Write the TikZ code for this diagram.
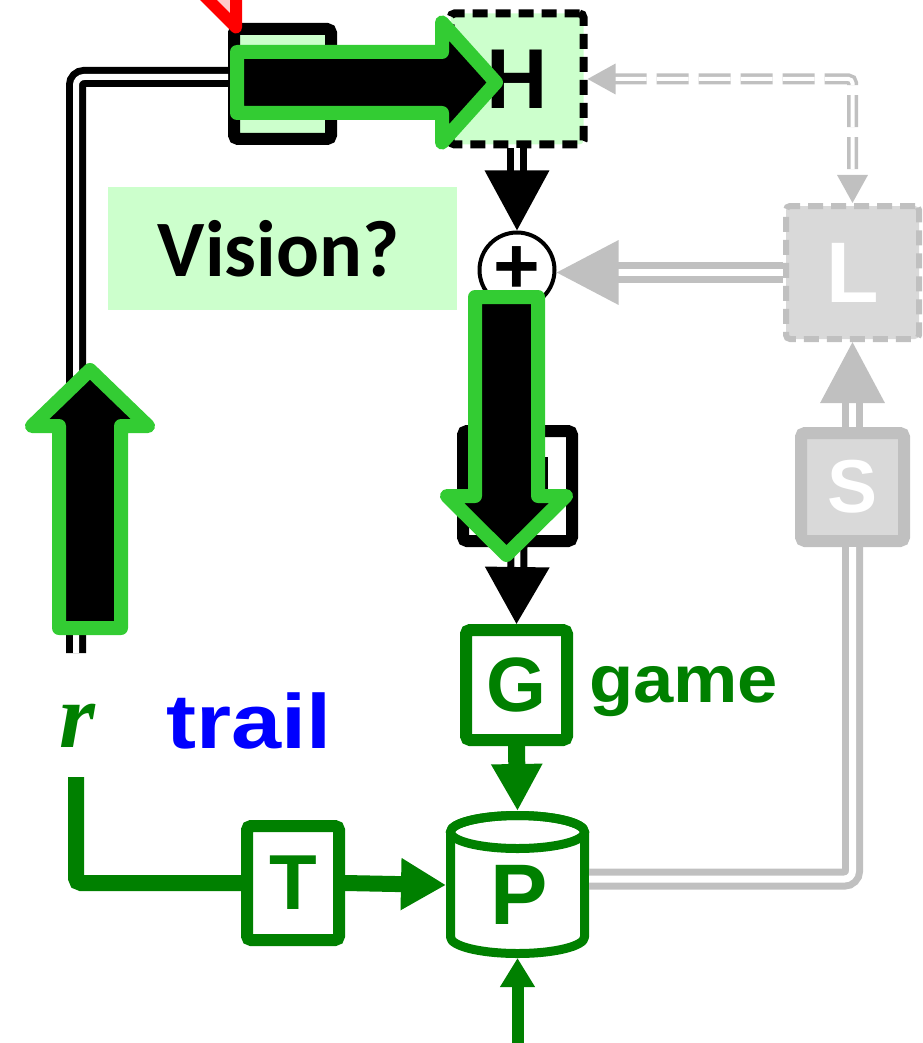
\documentclass[tikz,border=0pt]{standalone}
\usepackage{fontspec}
\usetikzlibrary{arrows.meta}
\newfontfamily\lsans{Liberation Sans}
\newfontfamily\lsansw[FakeStretch=1.17]{Liberation Sans}
\newfontfamily\lsansg[FakeStretch=1.08]{Liberation Sans}
\newfontfamily\cali{Carlito}
\newfontfamily\lserif{Liberation Serif}
\definecolor{dgreen}{RGB}{0,128,0}
\definecolor{bgreen}{RGB}{51,204,51}
\definecolor{lgreen}{RGB}{204,255,204}
\definecolor{mgrey}{RGB}{192,192,192}
\definecolor{lgrey}{RGB}{217,217,217}
\definecolor{lpink}{RGB}{255,204,204}
\begin{document}
\begin{tikzpicture}[x=1pt,y=-1pt,
  box/.style={rectangle, rounded corners=4pt, line width=12pt, inner sep=0pt},
  letter/.style={font={\lsans\bfseries\fontsize{#1}{#1}\selectfont}},
  blackdouble/.style={draw=black, double=white, line width=7pt, double distance=6pt},
  greydouble/.style={draw=mgrey, double=white, line width=7pt, double distance=7pt},
  greydash/.style={draw=mgrey, double=white, line width=3.5pt, double distance=4pt, dash pattern=on 32pt off 10pt},
  gline/.style={draw=dgreen, line width=16pt},
  garrow/.style={fill=black, draw=bgreen, line width=14pt, line join=round}
]
\useasboundingbox (0,0) rectangle (922,1043);
\clip (0,0) rectangle (922,1043);

% nodes
\node[rectangle, fill=lgreen, minimum width=349pt, minimum height=123pt, inner sep=0pt,
      font={\cali\bfseries\fontsize{80}{80}\selectfont}] (V) at (282.5,248.5) {Vision?\hspace*{8pt}};
\node[box, draw=black, fill=lgreen, minimum width=97pt, minimum height=110pt] (K) at (282.5,84) {};
\node[box, draw=black, fill=lgreen, line width=8pt, dash pattern=on 15pt off 8pt,
      minimum width=133pt, minimum height=131pt, letter=85, text=black] (H) at (517,79) {H};
\node[circle, draw=black, fill=white, line width=4pt, minimum size=75pt, inner sep=0pt,
      letter=80] (plus) at (517,270) {+};
\node[box, draw=mgrey, fill=lgrey, line width=6pt, dash pattern=on 15pt off 8pt,
      minimum width=133pt, minimum height=133pt, letter=86, text=white] (L) at (852.5,272.5) {L};
\node[box, draw=mgrey, fill=lgrey, minimum width=103pt, minimum height=108pt,
      letter=75, text=white] (S) at (852.5,487) {S};
\node[box, draw=black, fill=white, minimum width=109pt, minimum height=110pt] (M) at (517.5,486) {};
\fill[black] (540,457) rectangle (548,500);
\node[box, draw=dgreen, fill=white, minimum width=101pt, minimum height=110pt,
      letter=77, text=dgreen] (G) at (516.5,685) {G};
\node[anchor=base west, inner sep=0pt, font={\lsansg\bfseries\fontsize{67}{67}\selectfont},
      text=dgreen] (game) at (589,702) {game};
\node[box, draw=dgreen, fill=white, minimum width=92pt, minimum height=114pt,
      letter=78, text=dgreen] (T) at (293,883) {T};
\node[anchor=base, inner sep=0pt, font={\lserif\bfseries\itshape\fontsize{92}{92}\selectfont},
      text=dgreen] (r) at (77,747) {r};
\node[anchor=base west, inner sep=0pt, font={\lsansw\bfseries\fontsize{77}{77}\selectfont},
      text=blue] (trail) at (166,748) {trail};

% cylinder P
\path[draw=dgreen, fill=white, line width=9pt, line join=round]
  (450.5,832) -- (450.5,937) arc[start angle=180, end angle=0, x radius=67, y radius=16.5]
  -- (584.5,832) arc[start angle=0, end angle=-180, x radius=67, y radius=16.5] -- cycle;
\draw[dgreen, line width=9pt] (517.5,832) ellipse [x radius=67, y radius=16.5];
\node[letter=86, text=dgreen, inner sep=0pt] (P) at (519,895) {P};
\coordinate (Ptop) at (517.5,811);
\coordinate (Pbot) at (517.5,958);
\coordinate (Pleft) at (446,885);
\coordinate (Pright) at (589,879);
\coordinate (rline) at (76,653);
\coordinate (rtop) at (76,777);
\coordinate (bin) at (517.5,1060);

% connectors
\draw[blackdouble, rounded corners=8pt] ([yshift=7pt]K.west) -| (rline);
\draw[blackdouble, -{Triangle[length=60pt,width=63pt]}] (H.south) -- (plus.north);
\draw[blackdouble] (plus.south) -- (M.north);
\draw[blackdouble, -{Triangle[length=57pt,width=63pt]}] (M.south) -- (G.north);
\draw[dgreen, line width=17pt, -{Triangle[length=47pt,width=48pt]}] (G.south) -- (Ptop);
\draw[dgreen, line width=12pt, -{Triangle[length=29pt,width=33pt]}] (bin) -- (Pbot);
\draw[gline, rounded corners=5pt] (rtop) |- (T.west);
\draw[gline, -{Triangle[length=45pt,width=49pt]}] (T.east) -- (Pleft);
\draw[greydouble, rounded corners=8pt] (Pright) -| (S.south);
\draw[greydouble, -{Triangle[length=61pt,width=63pt]}] (S.north) -- (L.south);
\draw[greydouble, -{Triangle[length=62pt,width=63pt]}] (L.west) -- (L.west -| plus.east);
\draw[greydash, rounded corners=4pt, {Triangle[length=28pt,width=30pt]}-{Triangle[length=28pt,width=30pt]}]
  (H.east) -| (L.north);

% red marker
\draw[draw=red, fill=lpink, line width=12pt, line join=round] (236,27.5) -- (236,-80) -- (128.5,-80) -- cycle;

% big green arrows
\draw[garrow] (237,52) -- (442,52) -- (442,22.5) -- (496,82.5) -- (442,142.5) -- (442,113) -- (237,113) -- cycle;
\draw[garrow] (59,628) -- (59,426) -- (32,426) -- (90,370) -- (148,426) -- (121,426) -- (121,628) -- cycle;
\draw[garrow] (475,297) -- (538,297) -- (538,496) -- (566,496) -- (506.5,555) -- (447,496) -- (475,496) -- cycle;
\end{tikzpicture}
\end{document}
